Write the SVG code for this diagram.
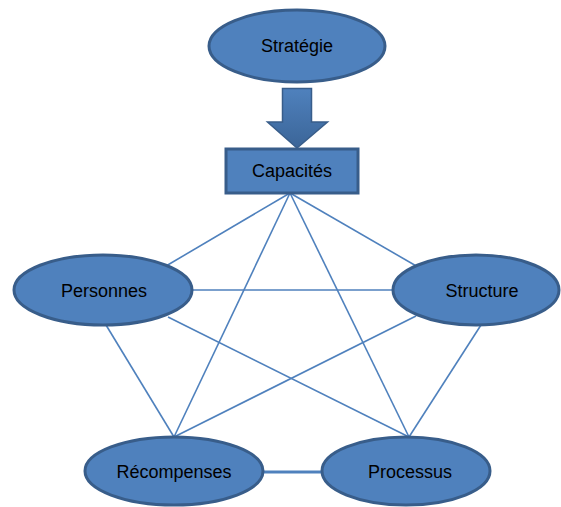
<svg xmlns="http://www.w3.org/2000/svg" width="561" height="507" viewBox="0 0 561 507">
<style>
.n{fill:#4F81BD;stroke:#385D8A;stroke-width:3}
.t{font-family:"Liberation Sans",Arial,sans-serif;font-size:18px;fill:#000;text-anchor:middle}
.c{stroke:#4F81BD;stroke-width:1.6;fill:none}
</style>
<defs>
<linearGradient id="ag" x1="0" y1="0" x2="0" y2="1">
<stop offset="0" stop-color="#4F81BD"/>
<stop offset="1" stop-color="#3B6598"/>
</linearGradient>
</defs>
<rect width="561" height="507" fill="#fff"/>
<g id="connectors">
<line class="c" x1="290" y1="193" x2="166" y2="266"/>
<line class="c" x1="290" y1="193" x2="418" y2="267"/>
<line class="c" x1="290" y1="193" x2="174" y2="437"/>
<line class="c" x1="290" y1="193" x2="409" y2="437"/>
<line class="c" x1="193" y1="290" x2="393" y2="290"/>
<line class="c" x1="106" y1="325" x2="174" y2="437"/>
<line class="c" x1="168" y1="317" x2="409" y2="437"/>
<line class="c" x1="416" y1="316" x2="174" y2="437"/>
<line class="c" x1="481" y1="325" x2="409" y2="437"/>
<line x1="263" y1="472" x2="322" y2="472" stroke="#4F81BD" stroke-width="3"/>
</g>
<g id="arrow">
<path d="M282.5,88.5 H311.5 V122 H327.5 L297,148 L267.5,122 H282.5 Z" fill="url(#ag)" stroke="#385D8A" stroke-width="1.5"/>
</g>
<g id="strategie">
<ellipse class="n" cx="297" cy="46" rx="88" ry="36"/>
<text class="t" x="297" y="52">Stratégie</text>
</g>
<g id="capacites">
<rect class="n" x="226" y="149" width="132" height="44"/>
<text class="t" x="292" y="177">Capacités</text>
</g>
<g id="personnes">
<ellipse class="n" cx="103" cy="290" rx="89" ry="35"/>
<text class="t" x="104" y="297">Personnes</text>
</g>
<g id="structure">
<ellipse class="n" cx="476" cy="290" rx="83" ry="35"/>
<text class="t" x="482" y="297">Structure</text>
</g>
<g id="recompenses">
<ellipse class="n" cx="174" cy="471" rx="89" ry="34"/>
<text class="t" x="174" y="478">Récompenses</text>
</g>
<g id="processus">
<ellipse class="n" cx="406" cy="471" rx="84" ry="34"/>
<text class="t" x="410" y="478">Processus</text>
</g>
</svg>
